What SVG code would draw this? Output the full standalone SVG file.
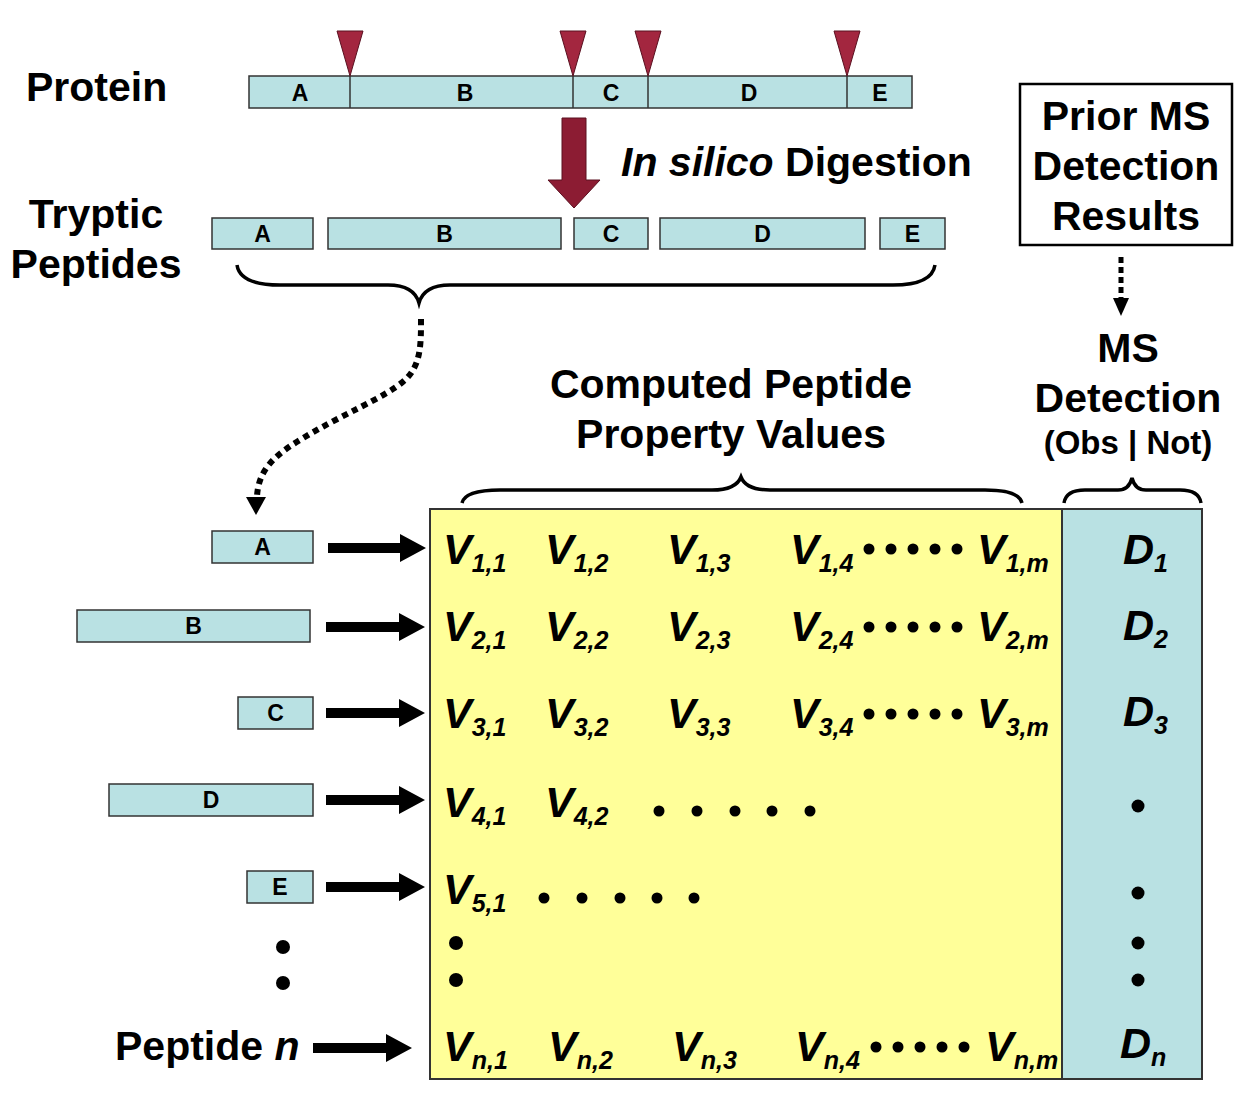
<svg xmlns="http://www.w3.org/2000/svg" width="1251" height="1102" viewBox="0 0 1251 1102">
<style>
.lbl{font-family:"Liberation Sans",Arial,sans-serif;font-weight:bold;font-size:41px;fill:#000}
.box{fill:#B9E1E3;stroke:#333;stroke-width:1.5}
.bl{font-family:"Liberation Sans",Arial,sans-serif;font-weight:bold;font-size:23px;fill:#000;text-anchor:middle}
.v{font-family:"Liberation Sans",Arial,sans-serif;font-weight:bold;font-style:italic;font-size:43px;fill:#000}
.s{font-size:25px}
.cut{fill:#A3263F;stroke:#5a1020;stroke-width:1}
.brace{fill:none;stroke:#000;stroke-width:3.5}
.dot{fill:#000}
</style>
<rect width="1251" height="1102" fill="#fff"/>

<g id="protein-label"><text class="lbl" x="26" y="101">Protein</text></g>
<g id="protein">
<rect class="box" x="249" y="76" width="663" height="32"/>
<line x1="350" y1="76" x2="350" y2="108" stroke="#333" stroke-width="1.5"/>
<line x1="573" y1="76" x2="573" y2="108" stroke="#333" stroke-width="1.5"/>
<line x1="648" y1="76" x2="648" y2="108" stroke="#333" stroke-width="1.5"/>
<line x1="847" y1="76" x2="847" y2="108" stroke="#333" stroke-width="1.5"/>
<text class="bl" x="300" y="101">A</text>
<text class="bl" x="465" y="101">B</text>
<text class="bl" x="611" y="101">C</text>
<text class="bl" x="749" y="101">D</text>
<text class="bl" x="880" y="101">E</text>
<polygon class="cut" points="337,31 363,31 350,76"/>
<polygon class="cut" points="560,31 586,31 573,76"/>
<polygon class="cut" points="635,31 661,31 648,76"/>
<polygon class="cut" points="834,31 860,31 847,76"/>
</g>

<g id="digestion">
<polygon points="562,118 586,118 586,180 600,180 574,208 548,180 562,180" fill="#8C1C33" stroke="#5a1020" stroke-width="1"/>
<text class="lbl" x="621" y="176"><tspan font-style="italic">In silico</tspan> Digestion</text>
</g>

<g id="tryptic-label">
<text class="lbl" x="96" y="228" text-anchor="middle">Tryptic</text>
<text class="lbl" x="96" y="278" text-anchor="middle">Peptides</text>
</g>
<g id="tryptic-peptides">
<rect class="box" x="212" y="218" width="101" height="31"/><text class="bl" x="262.5" y="242">A</text>
<rect class="box" x="328" y="218" width="233" height="31"/><text class="bl" x="444.5" y="242">B</text>
<rect class="box" x="574" y="218" width="74" height="31"/><text class="bl" x="611" y="242">C</text>
<rect class="box" x="660" y="218" width="205" height="31"/><text class="bl" x="762.5" y="242">D</text>
<rect class="box" x="880" y="218" width="65" height="31"/><text class="bl" x="912.5" y="242">E</text>
</g>

<g id="prior-ms">
<rect x="1020" y="84" width="212" height="161" fill="#fff" stroke="#000" stroke-width="2.5"/>
<text class="lbl" x="1126" y="130" text-anchor="middle">Prior MS</text>
<text class="lbl" x="1126" y="180" text-anchor="middle">Detection</text>
<text class="lbl" x="1126" y="230" text-anchor="middle">Results</text>
</g>

<g id="ms-detection-label">
<text class="lbl" x="1128" y="362" text-anchor="middle">MS</text>
<text class="lbl" x="1128" y="412" text-anchor="middle">Detection</text>
<text class="lbl" x="1128" y="454" text-anchor="middle" style="font-size:33px">(Obs | Not)</text>
</g>

<g id="computed-label">
<text class="lbl" x="731" y="398" text-anchor="middle">Computed Peptide</text>
<text class="lbl" x="731" y="448" text-anchor="middle">Property Values</text>
</g>

<g id="braces">
<path class="brace" d="M237,265 Q240,285 280,285 L388,285 Q414,285 419,303 Q424,285 450,285 L893,285 Q932,285 935,265"/>
<path class="brace" d="M462,503 Q465,490 500,490 L712,490 Q736,490 741,477 Q746,490 770,490 L985,490 Q1019,490 1022,503"/>
<path class="brace" d="M1064,503 Q1066,490 1085,490 L1118,490 Q1129,490 1132,478 Q1135,490 1146,490 L1180,490 Q1199,490 1201,503"/>
</g>

<g id="matrix">
<rect x="430" y="509" width="632" height="570" fill="#FFFF99" stroke="#333" stroke-width="2"/>
<rect x="1062" y="509" width="140" height="570" fill="#B9E1E3" stroke="#333" stroke-width="2"/>
<text class="v" x="443" y="564">V<tspan class="s" dy="8">1,1</tspan></text>
<text class="v" x="545" y="564">V<tspan class="s" dy="8">1,2</tspan></text>
<text class="v" x="667" y="564">V<tspan class="s" dy="8">1,3</tspan></text>
<text class="v" x="790" y="564">V<tspan class="s" dy="8">1,4</tspan></text>
<text class="v" x="977" y="564">V<tspan class="s" dy="8">1,m</tspan></text>
<text class="v" x="443" y="641">V<tspan class="s" dy="8">2,1</tspan></text>
<text class="v" x="545" y="641">V<tspan class="s" dy="8">2,2</tspan></text>
<text class="v" x="667" y="641">V<tspan class="s" dy="8">2,3</tspan></text>
<text class="v" x="790" y="641">V<tspan class="s" dy="8">2,4</tspan></text>
<text class="v" x="977" y="641">V<tspan class="s" dy="8">2,m</tspan></text>
<text class="v" x="443" y="728">V<tspan class="s" dy="8">3,1</tspan></text>
<text class="v" x="545" y="728">V<tspan class="s" dy="8">3,2</tspan></text>
<text class="v" x="667" y="728">V<tspan class="s" dy="8">3,3</tspan></text>
<text class="v" x="790" y="728">V<tspan class="s" dy="8">3,4</tspan></text>
<text class="v" x="977" y="728">V<tspan class="s" dy="8">3,m</tspan></text>
<text class="v" x="443" y="817">V<tspan class="s" dy="8">4,1</tspan></text>
<text class="v" x="545" y="817">V<tspan class="s" dy="8">4,2</tspan></text>
<text class="v" x="443" y="904">V<tspan class="s" dy="8">5,1</tspan></text>
<text class="v" x="443" y="1061">V<tspan class="s" dy="8">n,1</tspan></text>
<text class="v" x="548" y="1061">V<tspan class="s" dy="8">n,2</tspan></text>
<text class="v" x="672" y="1061">V<tspan class="s" dy="8">n,3</tspan></text>
<text class="v" x="795" y="1061">V<tspan class="s" dy="8">n,4</tspan></text>
<text class="v" x="985" y="1061">V<tspan class="s" dy="8">n,m</tspan></text>
<g class="dot">
<circle cx="869" cy="549" r="5.5"/><circle cx="891" cy="549" r="5.5"/><circle cx="913" cy="549" r="5.5"/><circle cx="935" cy="549" r="5.5"/><circle cx="957" cy="549" r="5.5"/>
<circle cx="869" cy="627" r="5.5"/><circle cx="891" cy="627" r="5.5"/><circle cx="913" cy="627" r="5.5"/><circle cx="935" cy="627" r="5.5"/><circle cx="957" cy="627" r="5.5"/>
<circle cx="869" cy="714" r="5.5"/><circle cx="891" cy="714" r="5.5"/><circle cx="913" cy="714" r="5.5"/><circle cx="935" cy="714" r="5.5"/><circle cx="957" cy="714" r="5.5"/>
<circle cx="659" cy="811" r="5.5"/><circle cx="697" cy="811" r="5.5"/><circle cx="735" cy="811" r="5.5"/><circle cx="772" cy="811" r="5.5"/><circle cx="810" cy="811" r="5.5"/>
<circle cx="544" cy="898" r="5.5"/><circle cx="582" cy="898" r="5.5"/><circle cx="620" cy="898" r="5.5"/><circle cx="657" cy="898" r="5.5"/><circle cx="694" cy="898" r="5.5"/>
<circle cx="456" cy="943" r="7"/><circle cx="456" cy="980" r="7"/>
<circle cx="876" cy="1047" r="5.5"/><circle cx="898" cy="1047" r="5.5"/><circle cx="920" cy="1047" r="5.5"/><circle cx="942" cy="1047" r="5.5"/><circle cx="964" cy="1047" r="5.5"/>
</g>
<text class="v" x="1123" y="564">D<tspan class="s" dy="8">1</tspan></text>
<text class="v" x="1123" y="640">D<tspan class="s" dy="8">2</tspan></text>
<text class="v" x="1123" y="726">D<tspan class="s" dy="8">3</tspan></text>
<text class="v" x="1120" y="1058">D<tspan class="s" dy="8">n</tspan></text>
<g class="dot">
<circle cx="1138" cy="806" r="6.5"/><circle cx="1138" cy="893" r="6.5"/><circle cx="1138" cy="943" r="6.5"/><circle cx="1138" cy="980" r="6.5"/>
</g>
</g>

<g id="peptide-A"><rect class="box" x="212" y="531" width="101" height="32"/><text class="bl" x="262.5" y="555">A</text></g>
<g id="peptide-B"><rect class="box" x="77" y="610" width="233" height="32"/><text class="bl" x="193.5" y="634">B</text></g>
<g id="peptide-C"><rect class="box" x="238" y="697" width="75" height="32"/><text class="bl" x="275.5" y="721">C</text></g>
<g id="peptide-D"><rect class="box" x="109" y="784" width="204" height="32"/><text class="bl" x="211" y="808">D</text></g>
<g id="peptide-E"><rect class="box" x="247" y="871" width="66" height="32"/><text class="bl" x="280" y="895">E</text></g>
<g id="peptide-n">
<circle cx="283" cy="947" r="7"/><circle cx="283" cy="983" r="7"/>
<text class="lbl" x="115" y="1060">Peptide <tspan font-style="italic">n</tspan></text>
</g>

<g id="connectors">
<path d="M421,319 C421,345 421,365 405,380 C385,398 340,415 300,440 C275,455 258,470 257,497" fill="none" stroke="#000" stroke-width="6" stroke-dasharray="6,5"/>
<polygon points="246,497 266,497 256,515" fill="#000"/>
<line x1="1121" y1="257" x2="1121" y2="298" stroke="#000" stroke-width="5" stroke-dasharray="6,4"/>
<polygon points="1113,298 1129,298 1121,316" fill="#000"/>
<g fill="#000">
<polygon points="328,543 400,543 400,534 426,548 400,562 400,553 328,553"/>
<polygon points="326,622 399,622 399,613 425,627 399,641 399,632 326,632"/>
<polygon points="326,708 399,708 399,699 425,713 399,727 399,718 326,718"/>
<polygon points="326,795 399,795 399,786 425,800 399,814 399,805 326,805"/>
<polygon points="326,882 399,882 399,873 425,887 399,901 399,892 326,892"/>
<polygon points="313,1043 386,1043 386,1034 412,1048 386,1062 386,1053 313,1053"/>
</g>
</g>
</svg>
